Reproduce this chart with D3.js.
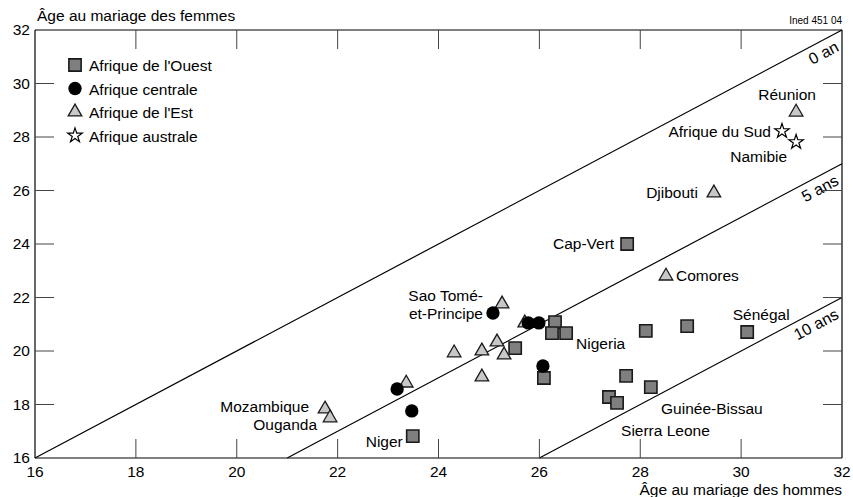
<!DOCTYPE html>
<html lang="fr">
<head>
<meta charset="utf-8"/>
<title>Âge au mariage</title>
<script src="https://d3js.org/d3.v7.min.js"></script>
<style>
  body { margin: 0; background: #fff; }
  svg { display: block; font-family: "Liberation Sans", Arial, sans-serif; }
  .tick-lbl { font-size: 15.5px; fill: #000; }
  .pt-lbl { font-size: 15.5px; fill: #000; }
</style>
</head>
<body>
<svg id="chart" width="853" height="497"></svg>
<script>
// data: [age hommes, age femmes]
var ouest = [[27.74, 24.0], [30.12, 20.71], [28.93, 20.93], [28.11, 20.75], [27.72, 19.07],
             [28.21, 18.65], [27.38, 18.28], [27.54, 18.06], [23.49, 16.82], [26.31, 21.08],
             [26.25, 20.67], [26.53, 20.67], [25.52, 20.11], [26.09, 18.99]];
var centrale = [[25.08, 21.42], [25.78, 21.05], [25.99, 21.05], [26.07, 19.44], [23.18, 18.58], [23.47, 17.76]];
var est = [[31.09, 28.93], [29.46, 25.91], [28.51, 22.80], [21.75, 17.83], [21.85, 17.50],
           [25.26, 21.76], [25.71, 21.05], [24.31, 19.93], [24.86, 20.0], [25.16, 20.34],
           [25.30, 19.85], [24.86, 19.03], [23.36, 18.80]];
var australe = [[30.81, 28.22], [31.09, 27.81]];
var seriesNames = ["Afrique de l'Ouest", "Afrique centrale", "Afrique de l'Est", "Afrique australe"];
var ticks = [16, 18, 20, 22, 24, 26, 28, 30, 32];
var ecarts = [0, 5, 10];
var ecartLabels = ["0 an", "5 ans", "10 ans"];
var countryLabels = [
  {text: "Cap-Vert", x: 27.74, y: 24.0},
  {text: "Sénégal", x: 30.12, y: 20.71},
  {text: "Nigeria", x: 26.53, y: 20.67},
  {text: "Niger", x: 23.49, y: 16.82},
  {text: "Guinée-Bissau", x: 27.54, y: 18.06},
  {text: "Sierra Leone", x: 27.54, y: 18.06},
  {text: "Sao Tomé-", x: 25.08, y: 21.42},
  {text: "et-Principe", x: 25.08, y: 21.42},
  {text: "Réunion", x: 31.09, y: 28.93},
  {text: "Djibouti", x: 29.46, y: 25.91},
  {text: "Comores", x: 28.51, y: 22.80},
  {text: "Mozambique", x: 21.75, y: 17.83},
  {text: "Ouganda", x: 21.85, y: 17.50},
  {text: "Afrique du Sud", x: 30.81, y: 28.22},
  {text: "Namibie", x: 31.09, y: 27.81}
];

var svg = d3.select("#chart");
var x = d3.scaleLinear().domain([16, 32]).range([35, 842]);
var y = d3.scaleLinear().domain([16, 32]).range([458, 30]);
var tickLen = 19;

// label placement (pixel offsets from the point, anchor)
var lblPos = {
  "Cap-Vert": [-13, 5, "end"],
  "Sénégal": [14, -12, "middle"],
  "Nigeria": [10, 16, "start"],
  "Niger": [-10, 11, "end"],
  "Guinée-Bissau": [44, 11, "start"],
  "Sierra Leone": [4, 33, "start"],
  "Sao Tomé-": [-10, -12, "end"],
  "et-Principe": [-10, 6, "end"],
  "Réunion": [-9, -12, "middle"],
  "Djibouti": [-16, 5, "end"],
  "Comores": [10, 5, "start"],
  "Mozambique": [-16, 3, "end"],
  "Ouganda": [-13, 12, "end"],
  "Afrique du Sud": [-11, 6, "end"],
  "Namibie": [-9, 20, "end"]
};

// diagonal lines
var lines = svg.append("g");
ecarts.forEach(function(e, i) {
  var x0 = 16 + e;
  lines.append("line")
    .attr("x1", x(x0)).attr("y1", y(16))
    .attr("x2", x(32)).attr("y2", y(32 - e))
    .attr("stroke", "#000").attr("stroke-width", 1.2);
  var ang = Math.atan2(y(16) - y(32 - e), x(32) - x(x0)) * 180 / Math.PI;
  var lx = 32 - 0.2;
  var ly = lx - e;
  lines.append("text")
    .attr("class", "pt-lbl")
    .attr("text-anchor", "end")
    .style("font-size", "16px")
    .attr("transform", "translate(" + x(lx) + "," + y(ly) + ") rotate(" + (-ang) + ") translate(0,17)")
    .text(ecartLabels[i]);
});

// axes frame
var frame = svg.append("g").attr("stroke", "#000").attr("stroke-width", 1.2);
frame.append("line").attr("x1", x(16)).attr("x2", x(32)).attr("y1", y(16)).attr("y2", y(16));
frame.append("line").attr("x1", x(16)).attr("x2", x(32)).attr("y1", y(32)).attr("y2", y(32));
frame.append("line").attr("x1", x(16)).attr("x2", x(16)).attr("y1", y(16)).attr("y2", y(32));
frame.append("line").attr("x1", x(32)).attr("x2", x(32)).attr("y1", y(16)).attr("y2", y(32));

// inward ticks
var inner = ticks.slice(1, -1);
var tk = svg.append("g").attr("stroke", "#444").attr("stroke-width", 1);
inner.forEach(function(t) {
  tk.append("line").attr("x1", x(t)).attr("x2", x(t)).attr("y1", y(16)).attr("y2", y(16) - tickLen);
  tk.append("line").attr("x1", x(t)).attr("x2", x(t)).attr("y1", y(32)).attr("y2", y(32) + tickLen);
  tk.append("line").attr("y1", y(t)).attr("y2", y(t)).attr("x1", x(16)).attr("x2", x(16) + tickLen);
  tk.append("line").attr("y1", y(t)).attr("y2", y(t)).attr("x1", x(32)).attr("x2", x(32) - tickLen);
});

// tick labels
svg.append("g").selectAll("text").data(ticks).enter().append("text")
  .attr("class", "tick-lbl").attr("text-anchor", "middle")
  .attr("x", function(d) { return x(d); }).attr("y", y(16) + 19)
  .text(function(d) { return d; });
svg.append("g").selectAll("text").data(ticks).enter().append("text")
  .attr("class", "tick-lbl").attr("text-anchor", "end")
  .attr("x", 30).attr("y", function(d) { return y(d) + 5; })
  .text(function(d) { return d; });

// axis titles
svg.append("text").attr("class", "tick-lbl").attr("x", 37).attr("y", 21).text("Âge au mariage des femmes");
svg.append("text").attr("class", "tick-lbl").attr("x", 842).attr("y", 495).attr("text-anchor", "end").text("Âge au mariage des hommes");
svg.append("text").attr("x", 842).attr("y", 24).attr("text-anchor", "end")
  .style("font-size", "10px").text("Ined 451 04");

// symbols
var sym = [
  {data: ouest, type: d3.symbolSquare, size: 150, fill: "#7f7f7f", stroke: "#1a1a1a", sw: 1.6},
  {data: centrale, type: d3.symbolCircle, size: 140, fill: "#000", stroke: "#000", sw: 0},
  {data: est, type: d3.symbolTriangle, size: 80, fill: "#c8c8c8", stroke: "#1a1a1a", sw: 1.3},
  {data: australe, type: d3.symbolStar, size: 65, fill: "#fff", stroke: "#000", sw: 1.2}
];
var pts = svg.append("g");
[2, 0, 1, 3].forEach(function(k) {
  var s = sym[k];
  pts.append("g").selectAll("path").data(s.data).enter().append("path")
    .attr("transform", function(d) { return "translate(" + x(d[0]) + "," + y(d[1]) + ")"; })
    .attr("d", d3.symbol().type(s.type).size(s.size))
    .attr("fill", s.fill).attr("stroke", s.stroke).attr("stroke-width", s.sw);
});

// country labels
svg.append("g").selectAll("text").data(countryLabels).enter().append("text")
  .attr("class", "pt-lbl")
  .attr("x", function(d) { return x(d.x) + lblPos[d.text][0]; })
  .attr("y", function(d) { return y(d.y) + lblPos[d.text][1]; })
  .attr("text-anchor", function(d) { return lblPos[d.text][2]; })
  .text(function(d) { return d.text; });

// legend
var legend = svg.append("g").selectAll("g").data(sym).enter().append("g")
  .attr("transform", function(d, i) { return "translate(75," + (65 + i * 23.5) + ")"; });
legend.append("path")
  .attr("d", function(d) { return d3.symbol().type(d.type).size(d.size)(); })
  .attr("fill", function(d) { return d.fill; })
  .attr("stroke", function(d) { return d.stroke; })
  .attr("stroke-width", function(d) { return d.sw; });
legend.append("text").attr("class", "pt-lbl").attr("x", 14).attr("y", 6)
  .text(function(d, i) { return seriesNames[i]; });
</script>
</body>
</html>
